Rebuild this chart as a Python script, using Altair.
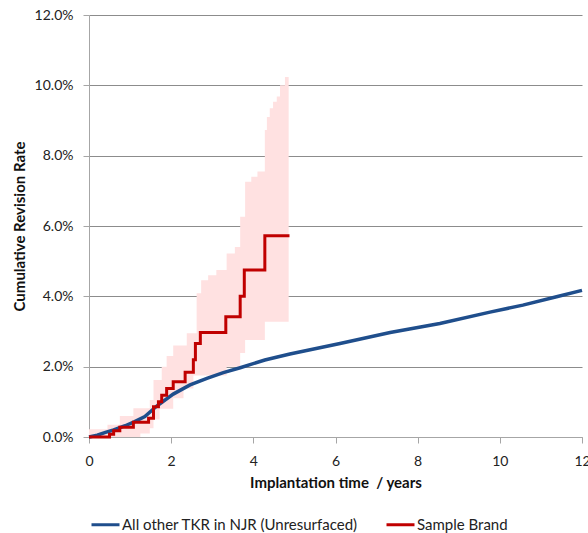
import altair as alt
import pandas as pd

# Cumulative revision rate (%) by years since implantation
all_other_t = [0, 0.2, 0.4, 0.6, 0.88, 1.1, 1.36, 1.65, 2.05, 2.46, 2.87, 3.27, 3.68,
               4.28, 4.89, 6.11, 7.33, 8.54, 9.76, 10.56, 11.38, 12.0]
all_other_v = [0, 0.05, 0.13, 0.2, 0.32, 0.43, 0.58, 0.88, 1.22, 1.48, 1.67, 1.83, 1.97,
               2.19, 2.36, 2.66, 2.97, 3.23, 3.55, 3.75, 3.99, 4.17]

brand_t = [0, 0.5, 0.6, 0.75, 1.08, 1.45, 1.57, 1.69, 1.77, 1.89, 2.05, 2.34, 2.54,
           2.59, 2.71, 3.33, 3.68, 3.78, 4.28, 4.88]
brand_v = [0, 0.08, 0.18, 0.28, 0.42, 0.53, 0.86, 1.0, 1.19, 1.38, 1.57, 1.84, 2.2,
           2.66, 2.97, 3.42, 4.0, 4.75, 5.72, 5.72]

# Confidence band around the brand's curve
band_t = [0, 0.45, 0.75, 1.08, 1.25, 1.48, 1.57, 1.72, 1.77, 1.89, 2.05, 2.3, 2.38,
          2.54, 2.62, 2.73, 2.9, 3.1, 3.35, 3.55, 3.68, 3.8, 3.95, 4.1, 4.28, 4.33,
          4.4, 4.48, 4.57, 4.65, 4.77, 4.86]
band_hi = [0.22, 0.35, 0.6, 0.82, 0.82, 1.05, 1.62, 1.62, 2.0, 2.3, 2.6, 2.6, 2.95,
           2.95, 4.09, 4.46, 4.6, 4.75, 5.22, 5.4, 6.26, 7.26, 7.4, 7.55, 8.73, 9.1,
           9.35, 9.53, 9.68, 10.0, 10.24, 10.43]
band_lo = [0, 0, 0, 0, 0.1, 0.25, 0.5, 0.8, 0.8, 0.8, 1.1, 1.38, 1.38, 1.75, 1.75,
           1.75, 1.75, 1.75, 2.0, 2.0, 2.39, 2.76, 2.76, 2.76, 3.28, 3.28, 3.28, 3.28,
           3.28, 3.28, 3.28, 3.28]

x_ticks = [0, 2, 4, 6, 8, 10, 12]
y_ticks = [0, 2, 4, 6, 8, 10, 12]

series_names = ["All other TKR in NJR (Unresurfaced)", "Sample Brand"]
series_colors = ["#1F4E8C", "#C00000"]

FONT = "Lato"

lines = pd.concat([
    pd.DataFrame({"t": all_other_t, "v": all_other_v, "series": series_names[0], "order": 0}),
    pd.DataFrame({"t": brand_t, "v": brand_v, "series": series_names[1], "order": 1}),
])
band = pd.DataFrame({"t": band_t, "lo": band_lo, "hi": band_hi})

x_scale = alt.Scale(domain=[0, 12], nice=False)
y_scale = alt.Scale(domain=[0, 12], nice=False)

x_axis = alt.Axis(values=x_ticks, grid=False, title="Implantation time \u00a0/ years",
                  tickColor="#A6A6A6", domainColor="#A6A6A6", tickSize=6,
                  labelPadding=11, titlePadding=7, labelFlush=False)
y_axis = alt.Axis(values=y_ticks, grid=True, gridColor="#8C8C8C", gridWidth=1,
                  title="Cumulative Revision Rate",
                  labelExpr="format(datum.value, '.1f') + '%'",
                  tickColor="#A6A6A6", domainColor="#A6A6A6", tickSize=6,
                  labelPadding=10, titlePadding=7)

band_layer = alt.Chart(band).mark_area(
    color="#FFE1E1", opacity=1, interpolate="step-after"
).encode(
    x=alt.X("t:Q", scale=x_scale, axis=x_axis),
    y=alt.Y("lo:Q", scale=y_scale, axis=y_axis),
    y2="hi:Q",
)

color = alt.Color(
    "series:N",
    scale=alt.Scale(domain=series_names, range=series_colors),
    legend=alt.Legend(
        title=None, orient="none", direction="horizontal",
        legendX=1, legendY=494, symbolType="stroke", symbolSize=784,
        symbolStrokeWidth=3, labelFontSize=15, labelFont=FONT,
        labelColor="#222222", columnPadding=22, labelOffset=1, labelLimit=400,
    ),
)

blue_layer = alt.Chart(lines[lines["order"] == 0]).mark_line(
    strokeWidth=3.5, interpolate="linear"
).encode(x="t:Q", y="v:Q", color=color)

red_layer = alt.Chart(lines[lines["order"] == 1]).mark_line(
    strokeWidth=3, interpolate="step-after"
).encode(x="t:Q", y="v:Q", color=color)

chart = alt.layer(band_layer, blue_layer, red_layer).properties(
    width=493, height=422,
    autosize=alt.AutoSizeParams(type="none"),
    padding={"left": 89, "top": 15, "right": 6, "bottom": 96},
).configure(background="white").configure_view(stroke=None).configure_axis(
    labelFont=FONT, labelFontSize=14, labelColor="#222222",
    titleFont=FONT, titleFontSize=15, titleFontWeight="bold", titleColor="#111111",
)

chart.save("out.html", embed_options={"renderer": "svg", "actions": False})
